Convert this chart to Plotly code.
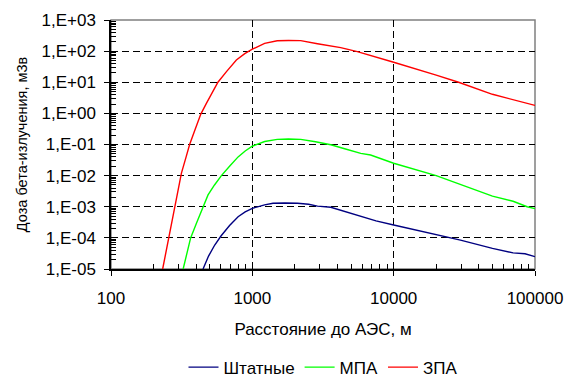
import plotly.graph_objects as go

# ЗПА (red): distance, m and dose, mSv
x_zpa = [232, 255, 283, 315, 340, 360, 393, 432, 473, 520, 571, 656, 771, 884, 1000, 1222, 1500, 1800,
         2200, 2890, 4220, 5530, 7680, 10000, 20000, 28800, 50000, 70000, 100000]
y_zpa = [1e-5, 9e-5, 1e-3, 1.2e-2, 4.0e-2, 1e-1, 3e-1, 0.95, 2.1, 4.6, 10, 22, 52, 83, 115, 178, 215, 220,
         217, 172, 129, 96, 63, 44, 17, 10, 4.1, 2.7, 1.8]

# МПА (green)
x_mpa = [324, 366, 405, 448, 486, 540, 604, 690, 793, 890, 1000, 1222, 1500, 1800, 2200, 2800, 3590,
         4500, 5850, 6870, 10000, 20000, 29700, 50000, 70000, 88000, 100000]
y_mpa = [1e-5, 1e-4, 3.2e-4, 1e-3, 2.4e-3, 5.0e-3, 1e-2, 2.0e-2, 4.0e-2, 6.2e-2, 8.8e-2, 1.25e-1, 1.46e-1, 1.5e-1,
         1.46e-1, 1.22e-1, 9.8e-2, 7.3e-2, 5.2e-2, 4.6e-2, 2.5e-2, 1.0e-2, 5.1e-3, 2.2e-3, 1.5e-3, 1.0e-3, 8.7e-4]

# Штатные (navy)
x_sht = [448, 490, 542, 600, 690, 793, 890, 1000, 1222, 1400, 1700, 2090, 2500, 2890, 3590, 4500, 5850,
         7500, 10000, 20000, 29700, 50000, 70000, 85000, 100000]
y_sht = [1e-5, 2.6e-5, 5.9e-5, 1.15e-4, 2.5e-4, 4.8e-4, 6.8e-4, 8.9e-4, 1.15e-3, 1.3e-3, 1.32e-3, 1.3e-3, 1.2e-3,
         1.05e-3, 9.6e-4, 7.1e-4, 4.9e-4, 3.5e-4, 2.6e-4, 1.3e-4, 8.5e-5, 4.6e-5, 3.3e-5, 3.1e-5, 2.5e-5]

series_names = ["Штатные", "МПА", "ЗПА"]
series_colors = ["#000080", "#00FF00", "#FF0000"]

x_tickvals = [100, 1000, 10000, 100000]
x_ticktext = ["100", "1000", "10000", "100000"]
y_tickvals = [1e-5, 1e-4, 1e-3, 1e-2, 1e-1, 1e0, 1e1, 1e2, 1e3]
y_ticktext = ["1,E-05", "1,E-04", "1,E-03", "1,E-02", "1,E-01", "1,E+00", "1,E+01", "1,E+02", "1,E+03"]

x_minor = [m * 10 ** e for e in range(2, 5) for m in range(2, 10)]
y_minor = [m * 10.0 ** e for e in range(-5, 3) for m in range(2, 10)]

FONT = "Liberation Sans, Arial, sans-serif"
TICK_SIZE = 17

fig = go.Figure()
for name, xs, ys, col in zip(series_names, [x_sht, x_mpa, x_zpa], [y_sht, y_mpa, y_zpa], series_colors):
    fig.add_trace(go.Scatter(x=xs, y=ys, mode="lines", name=name,
                             line=dict(color=col, width=1.4)))

axis_common = dict(
    type="log", showline=True, linecolor="black", linewidth=1.5,
    ticks="outside", ticklen=5, tickcolor="black", tickwidth=1.2,
    showgrid=True, gridcolor="black", gridwidth=1, griddash="7px,4px",
    zeroline=False, tickfont=dict(family=FONT, size=TICK_SIZE, color="black"),
)

fig.update_xaxes(**axis_common, range=[2, 5], tickmode="array",
                 tickvals=x_tickvals, ticktext=x_ticktext, ticklabelstandoff=8,
                 minor=dict(tickmode="array", tickvals=x_minor, ticks="inside", ticklen=5,
                            tickwidth=1, tickcolor="black", showgrid=False),
                 title=dict(text="Расстояние до АЭС, м", font=dict(family=FONT, size=17, color="black"),
                            standoff=16))
fig.update_yaxes(**axis_common, range=[-5, 3], tickmode="array",
                 tickvals=y_tickvals, ticktext=y_ticktext, ticklabelstandoff=5,
                 minor=dict(tickmode="array", tickvals=y_minor, ticks="inside", ticklen=5,
                            tickwidth=1, tickcolor="black", showgrid=False),
                 title=dict(text="Доза бета-излучения, м3в", font=dict(family=FONT, size=14.5, color="black"),
                            standoff=10))

fig.add_shape(type="rect", xref="paper", yref="paper", x0=0, y0=0, x1=1, y1=1,
              line=dict(color="#808080", width=1.5), layer="below")

fig.update_layout(
    width=569, height=377,
    margin=dict(l=111, r=34, t=20, b=108, autoexpand=False),
    paper_bgcolor="white", plot_bgcolor="white",
    showlegend=True,
    legend=dict(orientation="h", x=0.5, xanchor="center", yref="container", y=0.025, yanchor="middle",
                font=dict(family=FONT, size=17, color="black"), itemwidth=30,
                tracegroupgap=0),
    font=dict(family=FONT),
)

fig.write_html("out.html")
